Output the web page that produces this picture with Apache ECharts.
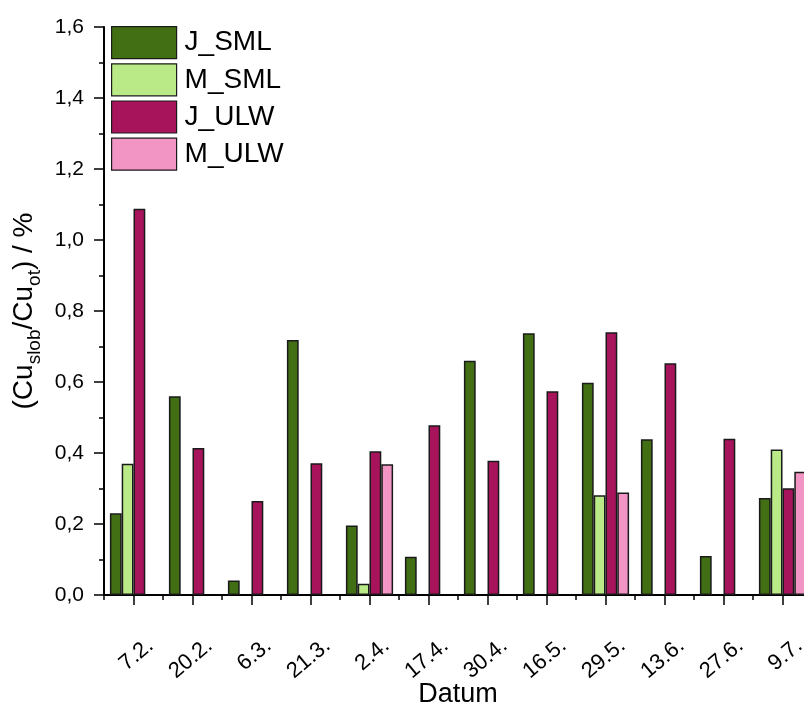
<!DOCTYPE html>
<html>
<head>
<meta charset="utf-8">
<script src="https://cdn.jsdelivr.net/npm/echarts@6/dist/echarts.min.js"></script>
<style>
html,body{margin:0;padding:0;background:#fff;}
#chart{width:804px;height:704px;}
</style>
</head>
<body>
<div id="chart"></div>
<script>
var categories = ['7.2.', '20.2.', '6.3.', '21.3.', '2.4.', '17.4.', '30.4.', '16.5.', '29.5.', '13.6.', '27.6.', '9.7.'];
var J_SML = [0.230, 0.560, 0.041, 0.718, 0.196, 0.108, 0.660, 0.737, 0.598, 0.439, 0.110, 0.273];
var M_SML = [0.370, null, null, null, 0.032, null, null, null, 0.281, null, null, 0.410];
var J_ULW = [1.088, 0.414, 0.265, 0.371, 0.405, 0.478, 0.378, 0.574, 0.740, 0.653, 0.440, 0.301];
var M_ULW = [null, null, null, null, 0.368, null, null, null, 0.289, null, null, 0.347];
var yTicks = [0, 0.2, 0.4, 0.6, 0.8, 1.0, 1.2, 1.4, 1.6];

var FONT = 'Liberation Sans, Arial, sans-serif';
var chart = echarts.init(document.getElementById('chart'), null, {renderer: 'canvas'});

var border = {borderColor: '#1a1a1a', borderWidth: 1.5};
function mk(name, data, color) {
  return {
    name: name, type: 'bar', data: data, xAxisIndex: 0, yAxisIndex: 0,
    barGap: '0%', barCategoryGap: '20%',
    itemStyle: Object.assign({color: color}, border)
  };
}

var option = {
  animation: false,
  backgroundColor: '#fff',
  textStyle: {fontFamily: FONT},
  grid: [
    {left: 104, top: 27, width: 708, height: 568, containLabel: false, outerBoundsMode: 'none'},
    {left: 121, top: 27, width: 708, height: 568, containLabel: false, outerBoundsMode: 'none'}
  ],
  legend: {
    orient: 'vertical', left: 111, top: 26, padding: 0,
    itemWidth: 65, itemHeight: 32, itemGap: 4,
    icon: 'rect',
    itemStyle: {borderColor: '#1a1a1a', borderWidth: 1.2},
    textStyle: {fontSize: 28, color: '#000', fontFamily: FONT, padding: [2, 0, 0, 3]},
    data: ['J_SML', 'M_SML', 'J_ULW', 'M_ULW']
  },
  xAxis: [
    {
      type: 'category', data: categories, gridIndex: 0, position: 'bottom',
      name: 'Datum', nameLocation: 'middle', nameGap: 86,
      nameTextStyle: {fontSize: 27, color: '#000', fontFamily: FONT},
      axisLine: {show: true, lineStyle: {color: '#000', width: 2}},
      axisTick: {show: true, alignWithLabel: true, length: 10, lineStyle: {color: '#000', width: 1.5}},
      axisLabel: {show: false},
      splitLine: {show: false}
    },
    {
      type: 'category', data: categories, gridIndex: 0, position: 'bottom',
      axisLine: {show: false},
      axisTick: {show: true, length: 5, lineStyle: {color: '#000', width: 1.5}},
      axisLabel: {show: false},
      splitLine: {show: false}
    },
    {
      type: 'category', data: categories, gridIndex: 1, position: 'bottom',
      axisLine: {show: false},
      axisTick: {show: false},
      axisLabel: {
        show: true, interval: 0, rotate: 40, margin: 48,
        formatter: function (v) { return '{a|' + v + '}'; },
        rich: {a: {fontSize: 22, color: '#000', fontFamily: FONT}}
      },
      splitLine: {show: false}
    }
  ],
  yAxis: [
    {
      type: 'value', gridIndex: 0, min: 0, max: 1.6, interval: 0.2,
      name: '{n|(Cu}{s|slob}{n|/Cu}{s|ot}{n|) / %}',
      nameLocation: 'middle', nameRotate: 90, nameGap: 58,
      nameTextStyle: {
        color: '#000', fontFamily: FONT,
        rich: {
          n: {fontSize: 28, color: '#000', fontFamily: FONT, lineHeight: 36, verticalAlign: 'middle'},
          s: {fontSize: 19, color: '#000', fontFamily: FONT, lineHeight: 40, verticalAlign: 'bottom'}
        }
      },
      axisLine: {show: true, lineStyle: {color: '#000', width: 2}},
      axisTick: {show: true, length: 10, lineStyle: {color: '#000', width: 1.5}},
      minorTick: {show: true, splitNumber: 2, length: 5, lineStyle: {color: '#000', width: 1.5}},
      axisLabel: {
        margin: 20, fontSize: 21, color: '#000', fontFamily: FONT,
        formatter: function (v) { return v.toFixed(1).replace('.', ','); }
      },
      splitLine: {show: false}
    },
    {type: 'value', gridIndex: 1, show: false, min: 0, max: 1.6}
  ],
  series: [
    mk('J_SML', J_SML, '#436f14'),
    mk('M_SML', M_SML, '#bae987'),
    mk('J_ULW', J_ULW, '#a8145b'),
    mk('M_ULW', M_ULW, '#f395c4')
  ]
};
chart.setOption(option);
</script>
</body>
</html>
